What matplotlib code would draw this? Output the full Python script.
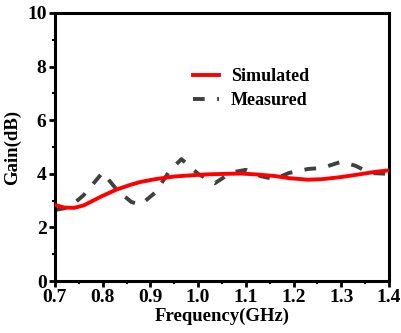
"""
Gain vs frequency: simulated and measured
"""
import matplotlib
matplotlib.use('Agg')
import matplotlib.pyplot as plt
from matplotlib.ticker import MultipleLocator

# 読み取ったデータ
sim_freq = [0.70, 0.72, 0.74, 0.76, 0.78, 0.80, 0.83, 0.86, 0.88, 0.91, 0.95,
            0.99, 1.02, 1.06, 1.09, 1.12, 1.16, 1.19, 1.23, 1.26, 1.30, 1.33,
            1.37, 1.40]
sim_gain = [2.84, 2.74, 2.73, 2.82, 3.00, 3.18, 3.42, 3.60, 3.70, 3.80, 3.90,
            3.95, 3.98, 4.00, 4.01, 3.98, 3.92, 3.84, 3.78, 3.80, 3.88, 3.96,
            4.07, 4.13]

meas_freq = [0.70, 0.73, 0.76, 0.80, 0.83, 0.86, 0.88, 0.91, 0.94, 0.965,
             1.00, 1.035, 1.07, 1.10, 1.13, 1.16, 1.19, 1.23, 1.26, 1.30,
             1.33, 1.36, 1.40]
meas_gain = [2.65, 2.75, 3.20, 4.05, 3.40, 2.95, 2.85, 3.30, 4.10, 4.55,
             4.00, 3.65, 4.05, 4.15, 3.92, 3.80, 4.03, 4.18, 4.22, 4.45,
             4.30, 4.03, 4.00]

plt.rcParams['font.family'] = ['Liberation Serif', 'DejaVu Serif']
plt.rcParams['font.weight'] = 'bold'

fig = plt.figure(figsize=(4.01, 3.33), dpi=100)
ax = fig.add_axes([0.137, 0.156, 0.833, 0.805])

ax.plot(sim_freq, sim_gain, color='#ff0000', linewidth=2.8, label='Simulated',
        zorder=3)
ax.plot(meas_freq, meas_gain, color='#404040', linewidth=2.8,
        dashes=(3.0, 3.2), label='Measured', zorder=2)

ax.set_xlim(0.7, 1.4)
ax.set_ylim(0, 10)
ax.xaxis.set_major_locator(MultipleLocator(0.1))
ax.xaxis.set_minor_locator(MultipleLocator(0.05))
ax.yaxis.set_major_locator(MultipleLocator(2))
ax.yaxis.set_minor_locator(MultipleLocator(1))

ax.tick_params(which='major', direction='out', length=4, width=2,
               labelsize=14, pad=2)
ax.tick_params(which='minor', direction='out', length=2.5, width=1.5)
for s in ax.spines.values():
    s.set_linewidth(2.2)

for lab in ax.get_xticklabels() + ax.get_yticklabels():
    lab.set_fontweight('bold')

ax.set_xlabel('Frequency(GHz)', fontsize=13.5, fontweight='bold', labelpad=1)
ax.set_ylabel('Gain(dB)', fontsize=13.5, fontweight='bold', labelpad=4)

ax.legend(loc='upper left', bbox_to_anchor=(0.365, 0.855), frameon=False,
          handlelength=1.45, handletextpad=0.65, labelspacing=0.4,
          prop={'weight': 'bold', 'size': 13})

fig.savefig('out.png', dpi=100)
